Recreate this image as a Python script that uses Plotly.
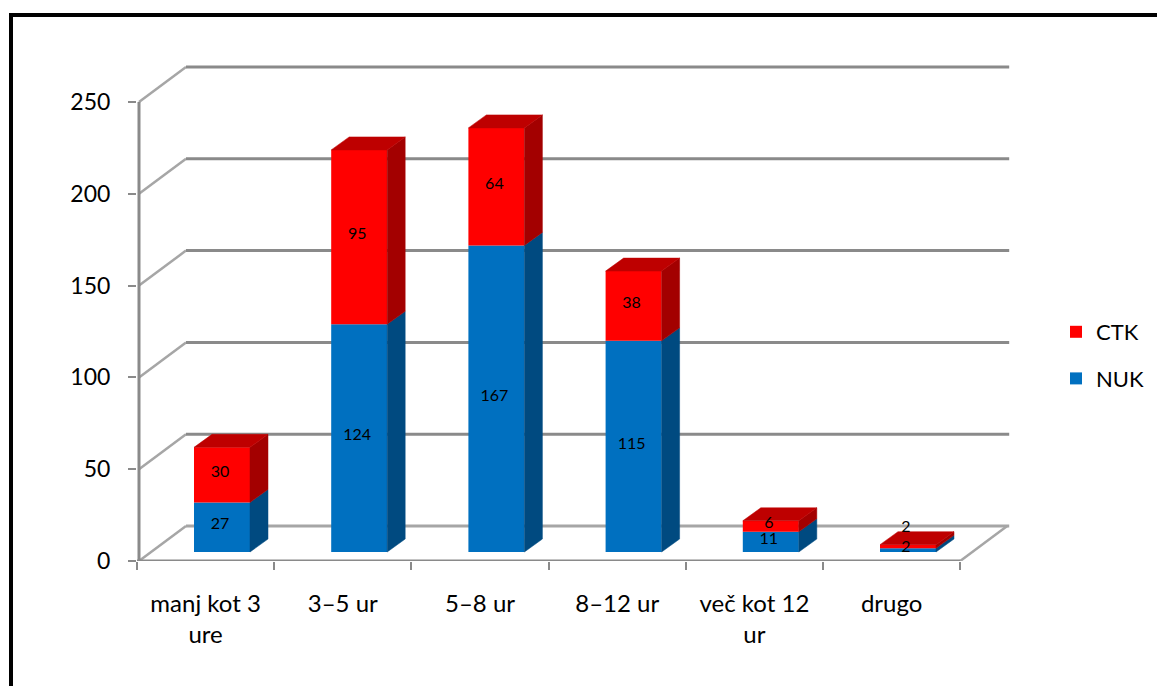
import plotly.graph_objects as go

categories = ["manj kot 3<br>ure", "3–5 ur", "5–8 ur", "8–12 ur", "več kot 12<br>ur", "drugo"]
nuk = [27, 124, 167, 115, 11, 2]
ctk = [30, 95, 64, 38, 6, 2]
ctk_label_lift = [0, 0, 0, 0, 0, 9]
y_ticks = [0, 50, 100, 150, 200, 250]

W, H = 1157, 686
PX_X = 137.2           # pixels per category
PX_Y = 1.836           # pixels per value unit
LEFT, BOTTOM, TOP, RIGHT = 137, 561, 50, 1015
FLOOR_LIFT = 9 / PX_Y  # bars stand 9 px above the front floor edge
BAR_SHIFT = (222 - LEFT) / PX_X - 0.5
BAR_W = 56 / PX_X
DX, DY = 18 / PX_X, 13 / PX_Y           # bar depth
WALL_DX, WALL_DY = 47 / PX_X, 35 / PX_Y # wall depth
AXIS_X = -0.5 + 2 / PX_X
GRID = "#8a8a8a"
DIAG = "#a6a6a6"
BLUE, BLUE_SIDE = "#0070C0", "#004A80"
RED, RED_SIDE, RED_TOP = "#FF0000", "#A30000", "#BE0000"
FONT = "Lato, Carlito, Calibri, sans-serif"

fig = go.Figure()


def line(xs, ys, color, width):
    fig.add_trace(go.Scatter(x=xs, y=ys, mode="lines", showlegend=False, hoverinfo="skip",
                             line=dict(color=color, width=width), yaxis="y"))


def poly(xs, ys, color):
    fig.add_trace(go.Scatter(x=xs + xs[:1], y=ys + ys[:1], mode="lines", fill="toself",
                             fillcolor=color, line=dict(color=color, width=0.5),
                             showlegend=False, hoverinfo="skip", yaxis="y2"))


# walls: front-to-back diagonals and back-plane gridlines
for v in y_ticks:
    line([AXIS_X, AXIS_X + WALL_DX], [v, v + WALL_DY], DIAG, 2.5)
    line([AXIS_X + WALL_DX, 5.5 + WALL_DX + 2 / PX_X], [v + WALL_DY] * 2, GRID if v else DIAG, 3)
line([5.5, 5.5 + WALL_DX], [0, WALL_DY], DIAG, 2.5)
line([AXIS_X, AXIS_X], [0, 250], GRID, 3)
line([-0.5, 5.5], [0, 0], GRID, 3)

centers = [i + BAR_SHIFT for i in range(len(categories))]

fig.add_trace(go.Bar(x=centers, y=nuk, width=BAR_W, name="NUK", marker=dict(color=BLUE, line=dict(width=0)),
                     yaxis="y2", legendgroup="nuk", legendrank=2))
fig.add_trace(go.Bar(x=centers, y=ctk, base=nuk, width=BAR_W, name="CTK", marker=dict(color=RED, line=dict(width=0)),
                     yaxis="y2", legendgroup="ctk", legendrank=1))

# extruded faces derived from the data
for c, n, k in zip(centers, nuk, ctk):
    l, r = c - BAR_W / 2, c + BAR_W / 2
    t = n + k
    poly([r, r + DX, r + DX, r], [0, DY, n + DY, n], BLUE_SIDE)
    poly([r, r + DX, r + DX, r], [n, n + DY, t + DY, t], RED_SIDE)
    poly([l, l + DX, r + DX, r], [t, t + DY, t + DY, t], RED_TOP)

# value labels
fig.add_trace(go.Scatter(
    x=[c - 2 / PX_X for c in centers] * 2,
    y=[n / 2 + 1 for n in nuk] + [n + k / 2 + 1 + lift for n, k, lift in zip(nuk, ctk, ctk_label_lift)],
    text=[str(v) for v in nuk + ctk], mode="text", textposition="middle center",
    textfont=dict(family=FONT, size=16, color="black"), showlegend=False, hoverinfo="skip", yaxis="y2"))

fig.update_layout(
    width=W, height=H, margin=dict(l=0, r=0, t=0, b=0, autoexpand=False), autosize=False,
    paper_bgcolor="white", plot_bgcolor="rgba(0,0,0,0)", barmode="overlay",
    font=dict(family=FONT, color="black"),
    xaxis=dict(domain=[LEFT / W, RIGHT / W], range=[-0.5, -0.5 + (RIGHT - LEFT) / PX_X], automargin=False,
               tickmode="array", tickvals=list(range(len(categories))), ticktext=categories,
               tickfont=dict(size=24, family=FONT), ticks="", showgrid=False, zeroline=False,
               showline=False, ticklabelstandoff=26, anchor="y",
               minor=dict(tickmode="array", tickvals=[i - 0.5 for i in range(7)], ticks="outside",
                          ticklen=8, tickcolor=GRID, tickwidth=2, showgrid=False)),
    yaxis=dict(domain=[(H - BOTTOM) / H, (H - TOP) / H], range=[0, (BOTTOM - TOP) / PX_Y], automargin=False,
               tickmode="array", tickvals=y_ticks, ticks="outside", ticklen=8, tickcolor=GRID, tickwidth=2,
               tickfont=dict(size=23, family=FONT), showgrid=False, zeroline=False, showline=False,
               ticklabelstandoff=13, anchor="x"),
    yaxis2=dict(overlaying="y", range=[-FLOOR_LIFT, (BOTTOM - TOP) / PX_Y - FLOOR_LIFT], visible=False, anchor="x"),
    legend=dict(x=1056 / W, xanchor="left", y=(H - 311) / H, yanchor="top", bgcolor="rgba(0,0,0,0)",
                font=dict(size=22, family=FONT), tracegroupgap=15, itemwidth=30),
    shapes=[dict(type="path", xref="paper", yref="paper", path=f"M {11 / W} 0 L {11 / W} {(H - 15) / H} L 1 {(H - 15) / H}",
                 line=dict(color="black", width=4))],
)

fig.write_html("out.html", config=dict(displayModeBar=False),
               post_script="document.body.style.margin='0';document.documentElement.style.overflow='hidden';")
